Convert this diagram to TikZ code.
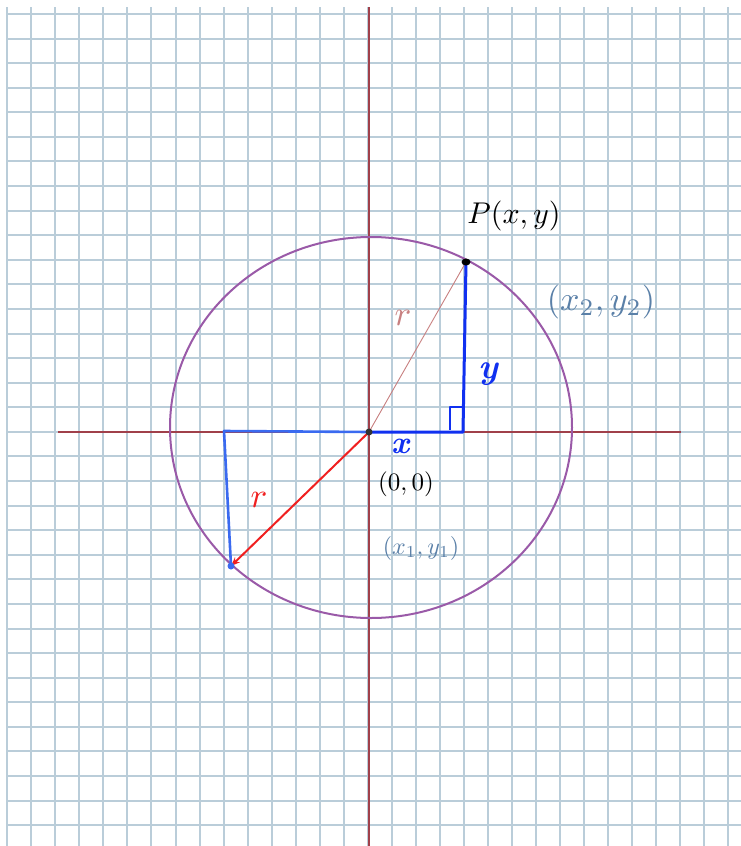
\documentclass[tikz,border=0pt]{standalone}
\usepackage{graphicx}
\usetikzlibrary{arrows.meta}
\definecolor{gridc}{HTML}{BACDD9}
\definecolor{axisc}{HTML}{A0404A}
\definecolor{circc}{HTML}{9A5AA8}
\definecolor{bluec}{HTML}{1030F0}
\definecolor{lbluec}{HTML}{3A6AF0}
\definecolor{redc}{HTML}{F02020}
\definecolor{rosec}{HTML}{C88080}
\definecolor{labc}{HTML}{5A80A8}
\tikzset{
  gridline/.style={draw=gridc, line width=2pt},
  axisline/.style={draw=axisc, line width=2pt},
  circline/.style={draw=circc, line width=2pt},
  legline/.style={draw=bluec, line width=3pt, line join=round},
  lleg/.style={draw=lbluec, line width=2.6pt, line join=round},
  rline/.style={draw=rosec, line width=0.9pt},
  rarrow/.style={draw=redc, line width=2pt, -{Stealth[length=9pt,width=7pt]}},
  lab/.style={inner sep=0pt},
  slab/.style={inner sep=0pt, text=labc},
}
\begin{document}
\begin{tikzpicture}[x=1pt,y=-1pt]
\useasboundingbox (0,0) rectangle (741,846);
\fill[white] (0,0) rectangle (741,846);
% grid
\foreach \k in {0,...,30} {
  \pgfmathsetmacro\gx{round(7.3+24.03*\k)}
  \draw[gridline] (\gx,7) -- (\gx,846);
}
\foreach \k in {0,...,33} {
  \pgfmathsetmacro\gy{round(14+24.58*\k)}
  \draw[gridline] (6,\gy) -- (741,\gy);
}
% coordinates
\coordinate (O) at (369,432);
\coordinate (P) at (466,262);
\coordinate (F) at (463,432);
\coordinate (L) at (224,431);
\coordinate (Q) at (231,566);
\coordinate (Xl) at (58,432);
\coordinate (Xr) at (681,432);
\coordinate (Yt) at (368.5,7);
\coordinate (Yb) at (368.5,846);
% axes
\draw[axisline] (Xl) -- (Xr);
\draw[axisline] (Yt) -- (Yb);
% circle
\draw[circline] (371,427.5) ellipse [x radius=201, y radius=190.5];
% right triangle
\draw[rline] (O) -- (P);
\draw[legline] (P) -- (F) -- (O);
\draw[legline, line width=2pt] (450,430) -- (450,407) -- (462,407);
% left triangle
\draw[lleg] (O) -- (L) -- (Q);
\draw[rarrow] (O) -- (Q);
% points
\fill[black] (P) ellipse [x radius=4.5, y radius=3.5];
\fill[black!80] (O) circle (3.5);
\fill[lbluec] (Q) circle (3.5);
% labels
\node[lab] (lP) at (514,216) {\scalebox{3}{$P(x,y)$}};
\node[slab] (l2) at (601,302) {\scalebox{3.4}{$(x_2,y_2)$}};
\node[lab, text=bluec] (ly) at (488,374) {\scalebox{3.5}{\bfseries\itshape y}};
\node[lab, text=bluec] (lx) at (400,446) {\scalebox{3.2}{\bfseries\itshape x}};
\node[slab, text=black] (l0) at (406,484) {\scalebox{2.5}{$(0,0)$}};
\node[slab] (l1) at (421,548) {\scalebox{2.4}{$(x_1,y_1)$}};
\node[lab, text=redc] (lr) at (259,500) {\scalebox{3.5}{$r$}};
\node[lab, text=rosec] (lr2) at (403,318) {\scalebox{3.5}{$r$}};
\end{tikzpicture}
\end{document}
